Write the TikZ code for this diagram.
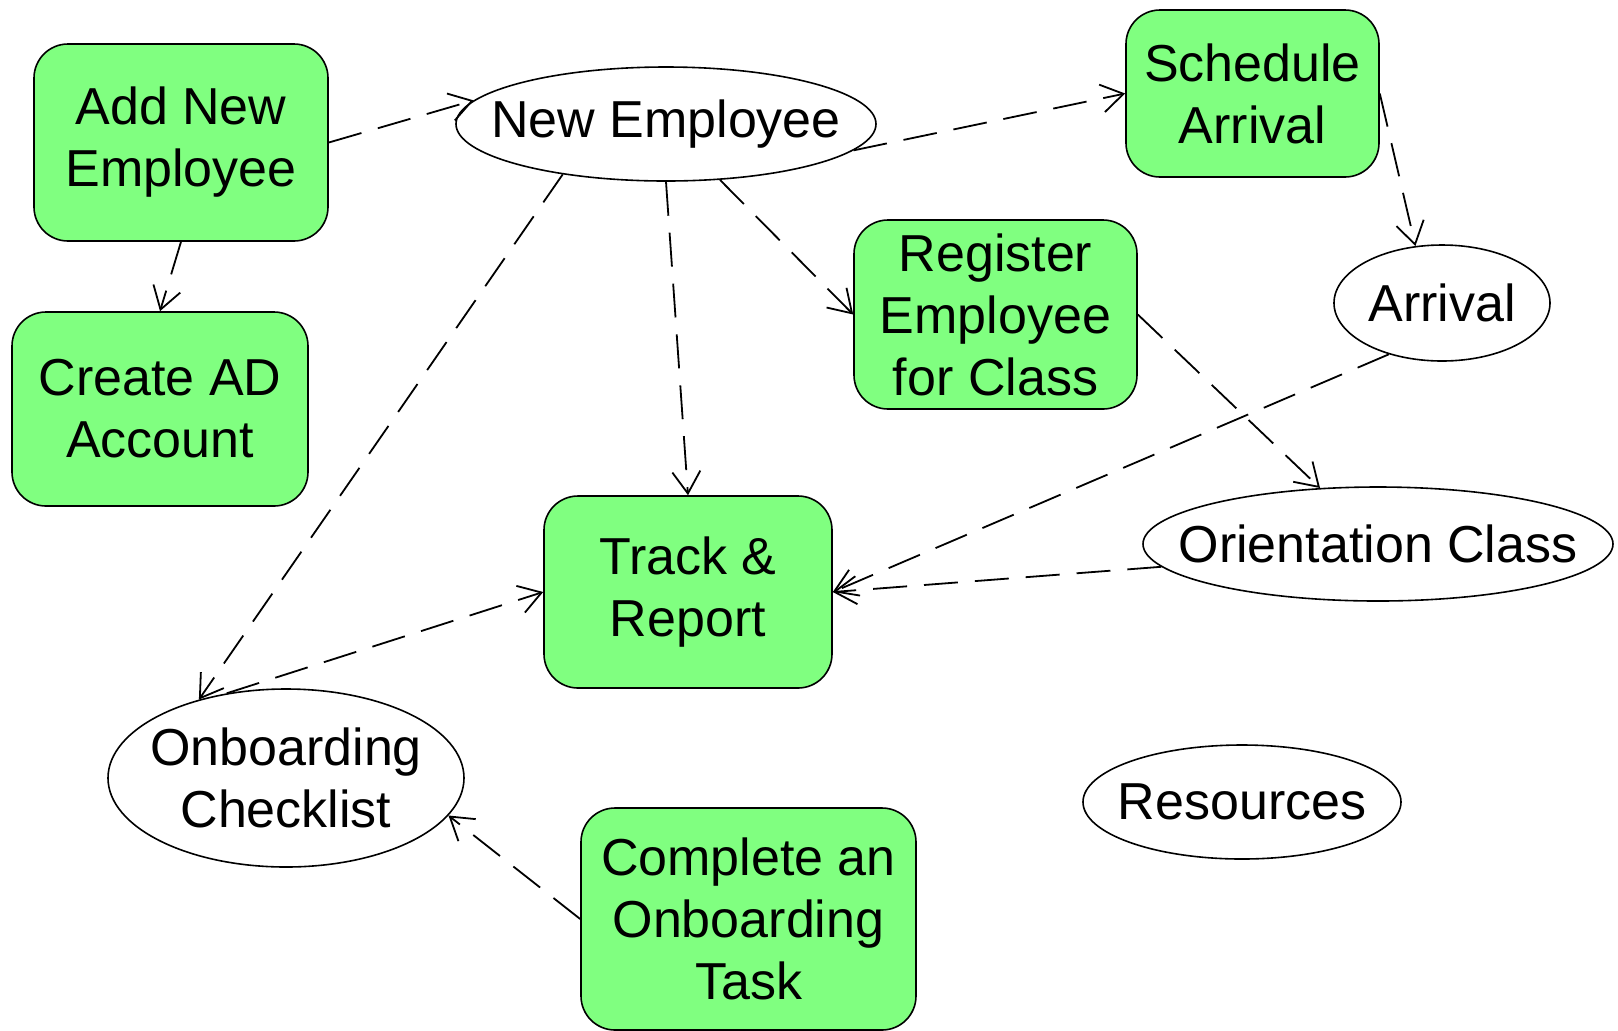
\documentclass[tikz,border=0pt]{standalone}
\usepackage{fontspec}
\setmainfont{Liberation Sans}
\usetikzlibrary{shapes.geometric,arrows.meta}
\definecolor{boxgreen}{RGB}{128,255,128}
\begin{document}
\begin{tikzpicture}[x=0.5pt,y=-0.5pt,
  every node/.style={font=\fontsize{26pt}{31pt}\selectfont, align=center, inner sep=0pt},
  task/.style={draw, line width=0.8pt, fill=boxgreen, rounded corners=17pt},
  obj/.style={draw, line width=0.8pt, fill=white, ellipse},
  flow/.style={line width=0.9pt, dash pattern=on 17pt off 8.5pt, -{Straight Barb[length=11pt,width=14pt]}}]
\useasboundingbox (0,0) rectangle (1618,1030);
\node[task, minimum width=147pt, minimum height=98.5pt] (addnew) at (181,142.5) {Add New\\Employee};
\node[task, minimum width=148pt, minimum height=97pt] (createad) at (160,409) {Create AD\\Account};
\node[task, minimum width=126.5pt, minimum height=83.5pt] (sched) at (1252.5,93.5) {Schedule\\Arrival};
\node[task, minimum width=141.5pt, minimum height=94.5pt] (register) at (995.5,314.5) {Register\\Employee\\for Class};
\node[task, minimum width=144pt, minimum height=96pt] (track) at (688,592) {Track \&\\Report};
\node[task, minimum width=167.5pt, minimum height=111pt] (complete) at (748.5,919) {Complete an\\Onboarding\\Task};
\node[obj, minimum width=210pt, minimum height=57pt, label=center:{New Employee}] (newemp) at (666,124) {};
\node[obj, minimum width=108pt, minimum height=58pt, label=center:{Arrival}] (arrival) at (1442,303) {};
\node[obj, minimum width=235pt, minimum height=57pt, label=center:{Orientation Class}] (orient) at (1378,544) {};
\node[obj, minimum width=178pt, minimum height=89pt, label=center:{Onboarding\\Checklist}] (checklist) at (286,778) {};
\node[obj, minimum width=159pt, minimum height=57pt, label=center:{Resources}] (resources) at (1242,802) {};
\draw[flow] (addnew.east) -- (newemp.173);
\draw[flow] (addnew.south) -- (createad.north);
\draw[flow] (newemp.352.8) -- (sched.west);
\draw[flow] (sched.east) -- (arrival.115);
\draw[flow] (newemp.314.5) -- (register.west);
\draw[flow] (newemp.south) -- (track.north);
\draw[flow] (newemp.206) -- (checklist.138);
\draw[flow] (register.east) -- (orient.136.5);
\draw[flow] (arrival.224) -- (track.east);
\draw[flow] (orient.186.4) -- (track.east);
\draw[flow] (checklist.125) -- (track.west);
\draw[flow] (complete.west) -- (checklist.347);
\end{tikzpicture}
\end{document}
